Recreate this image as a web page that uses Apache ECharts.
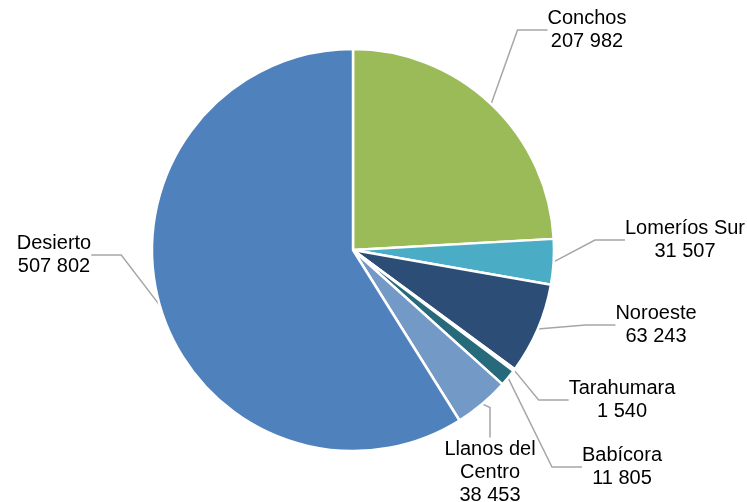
<!DOCTYPE html>
<html>
<head>
<meta charset="utf-8">
<script src="https://cdn.jsdelivr.net/npm/echarts@6/dist/echarts.min.js"></script>
<style>
  html, body { margin: 0; padding: 0; background: #fff; }
  #chart { width: 747px; height: 502px; }
</style>
</head>
<body>
<div id="chart"></div>
<script>
// regiones y poblacion
const regiones = ['Conchos', 'Lomeríos Sur', 'Noroeste', 'Tarahumara', 'Babícora', 'Llanos del\nCentro', 'Desierto']
const valores = [207982, 31507, 63243, 1540, 11805, 38453, 507802]
const colores = ['#9bbb59', '#4bacc6', '#2c4d75', '#1f5a6b', '#276a7c', '#7399c6', '#4f81bd']
// posiciones de etiquetas (centro del bloque de texto)
const etiquetaPos = [[587, 30], [685, 240], [656, 325], [622, 400], [622, 467], [490, 472], [54, 255]]

const fmt = (v) => String(v).replace(/\B(?=(\d{3})+(?!\d))/g, ' ')

const chart = echarts.init(document.getElementById('chart'))
chart.setOption({
  animation: false,
  series: [
    {
      type: 'pie',
      center: [353, 250],
      radius: 201,
      startAngle: 90,
      clockwise: true,
      itemStyle: { borderColor: '#fff', borderWidth: 2.5 },
      label: {
        show: true,
        color: '#000',
        fontFamily: 'Liberation Sans, Arial, sans-serif',
        fontSize: 20,
        lineHeight: 23,
        align: 'center',
        formatter: (p) => p.name + '\n' + fmt(p.value),
      },
      labelLine: {
        show: true,
        lineStyle: { color: '#a6a6a6', width: 1.5 },
      },
      labelLayout: (p) => ({
        x: etiquetaPos[p.dataIndex][0],
        y: etiquetaPos[p.dataIndex][1],
        align: 'center',
        verticalAlign: 'middle',
      }),
      data: regiones.map((n, i) => ({ name: n, value: valores[i], itemStyle: { color: colores[i] } })),
    },
  ],
})
</script>
</body>
</html>
